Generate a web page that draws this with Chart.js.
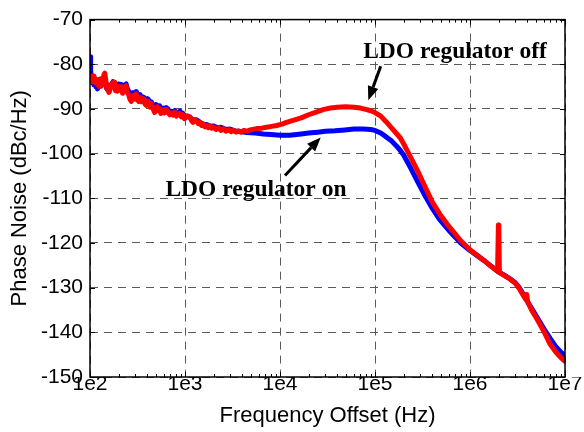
<!DOCTYPE html>
<html>
<head>
<meta charset="utf-8">
<script src="https://cdn.jsdelivr.net/npm/chart.js@4"></script>
<style>
  html, body { margin: 0; padding: 0; background: #fff; }
  #wrap { width: 584px; height: 432px; }
</style>
</head>
<body>
<div id="wrap"><canvas id="pnChart"></canvas></div>
<script>
// Data: [frequency offset (Hz), phase noise (dBc/Hz)]
const ldoOff = [
  [100, -82.7], [102, -83.6], [104, -82.8], [106, -83.9], [108, -82.6], [110, -83.8], [112, -83.0],
  [115, -84.2], [117, -83.4], [120, -84.6], [122, -83.8], [125, -85.0], [127, -83.3], [129, -84.6],
  [131, -84.9], [134, -83.2], [137, -83.5], [140, -82.4], [143, -82.0], [146, -83.2], [148, -84.2],
  [151, -85.5], [154, -85.4], [158, -86.3], [161, -86.0], [165, -84.8], [168, -85.2], [172, -84.2],
  [175, -84.6], [179, -84.0], [182, -84.9], [186, -85.9], [190, -85.3], [195, -86.0], [200, -85.0],
  [206, -85.8], [213, -85.0], [220, -86.5], [226, -86.0], [233, -85.0], [240, -84.8], [247, -86.2],
  [255, -86.8], [263, -87.8], [272, -88.3], [281, -87.2], [290, -86.9], [298, -87.8], [307, -86.6],
  [316, -87.9], [325, -88.3], [336, -87.4], [347, -88.4], [357, -87.6], [368, -87.8], [380, -88.9],
  [391, -89.2], [403, -88.2], [415, -88.6], [428, -89.6], [442, -88.8], [460, -89.9], [479, -90.8],
  [495, -89.8], [510, -89.5], [525, -90.4], [540, -89.9], [557, -91.0], [575, -90.8], [592, -90.2],
  [610, -90.9], [635, -90.1], [660, -90.6], [690, -91.3], [716, -90.9], [750, -91.4], [780, -90.7],
  [810, -91.6], [844, -91.3], [880, -91.0], [920, -91.8], [955, -91.3], [990, -92.2], [1060, -91.6],
  [1130, -91.8], [1170, -92.6], [1215, -93.0], [1260, -92.4], [1320, -92.7], [1380, -93.3], [1440, -93.0],
  [1500, -93.7], [1560, -93.4], [1620, -94.0], [1690, -93.7], [1760, -94.2], [1840, -93.8], [1910, -94.3],
  [1985, -94.0], [2120, -94.6], [2250, -94.2], [2400, -94.8], [2530, -94.4], [2700, -95.0], [2880, -94.6],
  [3050, -95.1], [3240, -94.8], [3450, -95.2], [3650, -94.9], [3900, -95.2], [4130, -94.8], [4500, -95.0],
  [4830, -94.7], [5680, -94.4], [6400, -94.3], [7220, -94.1], [8200, -93.9], [9200, -93.7],
  [10500, -93.4], [11700, -93.0], [14000, -92.5], [16700, -92.0], [20000, -91.3], [24000, -90.7],
  [29000, -90.1], [34000, -89.8], [40000, -89.6], [49000, -89.5], [60000, -89.6], [70000, -89.8],
  [80000, -90.1], [90000, -90.4], [100000, -90.8], [115000, -91.6], [130000, -92.8], [150000, -94.3],
  [170000, -95.6], [185000, -96.5], [200000, -97.8], [240000, -101.0], [280000, -103.8], [340000, -107.6],
  [400000, -110.8], [480000, -113.5], [600000, -116.3], [800000, -119.5], [1000000, -121.5],
  [1200000, -122.8], [1400000, -123.9], [1600000, -124.9], [1800000, -125.8], [1950000, -126.3],
  [1990000, -116.0], [2010000, -116.3], [2040000, -126.6], [2300000, -127.3], [2600000, -128.0],
  [3000000, -129.0], [3300000, -130.2], [3600000, -131.6], [3850000, -132.6], [3950000, -131.5],
  [4050000, -133.2], [4500000, -135.2], [5000000, -136.8], [6000000, -139.8], [6900000, -142.5],
  [8000000, -144.4], [9300000, -145.9], [10000000, -146.5]
];

const ldoOn = [
  [100, -78.3], [101, -79.8], [102, -81.5], [104, -83.3], [106, -84.2], [108, -83.6], [110, -84.6],
  [112, -84.0], [115, -85.0], [117, -84.5], [120, -85.5], [122, -85.0], [125, -84.3], [127, -83.8],
  [130, -84.8], [133, -84.3], [137, -83.6], [140, -83.3], [144, -84.2], [147, -84.8], [151, -85.6],
  [154, -85.2], [158, -86.0], [161, -85.5], [165, -84.6], [170, -84.4], [175, -83.9], [180, -84.2],
  [185, -85.2], [190, -84.8], [195, -85.3], [200, -84.4], [206, -85.0], [213, -84.5], [220, -85.6],
  [226, -85.3], [233, -84.6], [240, -84.4], [247, -85.5], [255, -86.0], [263, -86.9], [272, -87.0],
  [281, -86.4], [290, -86.4], [298, -87.0], [307, -86.1], [316, -87.0], [325, -87.3], [336, -86.8],
  [347, -87.7], [357, -87.3], [368, -87.4], [380, -88.2], [391, -88.3], [403, -87.7], [415, -88.0],
  [428, -88.9], [442, -88.4], [456, -89.3], [470, -89.5], [490, -89.0], [510, -89.2], [525, -89.8],
  [540, -89.3], [557, -90.1], [575, -90.3], [592, -89.8], [610, -90.1], [635, -89.7], [660, -90.0],
  [690, -90.6], [716, -90.5], [750, -90.9], [780, -90.4], [810, -91.0], [844, -90.8], [886, -90.5],
  [920, -91.2], [950, -91.0], [990, -91.5], [1060, -91.6], [1130, -91.9], [1215, -92.5], [1320, -92.4],
  [1440, -93.0], [1560, -93.4], [1690, -93.5], [1840, -93.9], [1985, -93.8], [2200, -94.2], [2400, -94.1],
  [2700, -94.6], [2970, -94.5], [3500, -95.0], [4000, -95.1], [4470, -95.3], [5500, -95.4], [6670, -95.6],
  [8000, -95.7], [10000, -95.9], [12700, -95.9], [16700, -95.6], [20000, -95.4], [25000, -95.2],
  [30000, -95.0], [38000, -94.9], [48000, -94.7], [60000, -94.5], [75000, -94.5], [90000, -94.6],
  [100000, -94.8], [115000, -95.4], [130000, -96.2], [150000, -97.2], [170000, -98.4], [185000, -99.3],
  [200000, -100.3], [240000, -103.4], [280000, -106.2], [340000, -109.6], [400000, -112.2],
  [480000, -114.8], [600000, -117.2], [800000, -120.0], [1000000, -121.7], [1200000, -122.9],
  [1400000, -123.9], [1600000, -124.9], [1800000, -125.7], [2000000, -126.5], [2300000, -127.2],
  [2600000, -127.9], [3000000, -128.9], [3300000, -130.0], [3600000, -131.3], [4000000, -133.0],
  [4500000, -134.8], [5000000, -136.4], [6000000, -139.2], [7000000, -141.4], [8000000, -143.2],
  [9000000, -144.4], [10000000, -145.2]
];

const xTicks = [1e2, 1e3, 1e4, 1e5, 1e6, 1e7];
const xTickLabels = ['1e2', '1e3', '1e4', '1e5', '1e6', '1e7'];
const yTicks = [-150, -140, -130, -120, -110, -100, -90, -80, -70];

// text notes and arrows, in data units
const notes = [
  { text: 'LDO regulator off', x: 6.95e5, y: -78.7 },
  { text: 'LDO regulator on', x: 5585, y: -109.4 }
];
const arrows = [
  { from: [1.148e5, -80.45], to: [8.5e4, -88.06] },
  { from: [1.129e4, -104.9], to: [2.682e4, -96.37] }
];

const toPoints = rows => rows.map(r => ({ x: r[0], y: r[1] }));

const frame = {
  id: 'frame',
  afterDatasetsDraw(chart) {
    const { ctx, chartArea: a, scales: { x, y } } = chart;
    ctx.save();
    ctx.strokeStyle = '#000';
    ctx.lineWidth = 1;
    ctx.beginPath();
    // minor ticks on the log axis
    for (let d = 100; d < 1e7; d *= 10) {
      for (let k = 2; k < 10; k++) {
        const px = Math.round(x.getPixelForValue(d * k)) + 0.5;
        ctx.moveTo(px, a.bottom); ctx.lineTo(px, a.bottom - 3);
        ctx.moveTo(px, a.top); ctx.lineTo(px, a.top + 3);
      }
    }
    xTicks.forEach(v => {
      const px = Math.round(x.getPixelForValue(v)) + 0.5;
      ctx.moveTo(px, a.bottom); ctx.lineTo(px, a.bottom - 5);
      ctx.moveTo(px, a.top); ctx.lineTo(px, a.top + 5);
    });
    yTicks.forEach(v => {
      const py = Math.round(y.getPixelForValue(v)) + 0.5;
      ctx.moveTo(a.left, py); ctx.lineTo(a.left + 5, py);
      ctx.moveTo(a.right, py); ctx.lineTo(a.right - 5, py);
    });
    ctx.stroke();
    ctx.lineWidth = 1.5;
    ctx.strokeRect(a.left, a.top, a.right - a.left, a.bottom - a.top);

    // notes
    ctx.fillStyle = '#000';
    ctx.font = 'bold 23.5px "Liberation Serif", "Times New Roman", serif';
    ctx.textAlign = 'center';
    ctx.textBaseline = 'alphabetic';
    notes.forEach(n => ctx.fillText(n.text, x.getPixelForValue(n.x), y.getPixelForValue(n.y)));

    // arrows
    arrows.forEach(ar => {
      const x0 = x.getPixelForValue(ar.from[0]), y0 = y.getPixelForValue(ar.from[1]);
      const x1 = x.getPixelForValue(ar.to[0]), y1 = y.getPixelForValue(ar.to[1]);
      const ang = Math.atan2(y1 - y0, x1 - x0);
      const hl = 14, hw = 5.5;
      const bx = x1 - hl * Math.cos(ang), by = y1 - hl * Math.sin(ang);
      ctx.lineWidth = 3;
      ctx.beginPath();
      ctx.moveTo(x0, y0); ctx.lineTo(bx, by);
      ctx.stroke();
      ctx.beginPath();
      ctx.moveTo(x1, y1);
      ctx.lineTo(bx + hw * Math.sin(ang), by - hw * Math.cos(ang));
      ctx.lineTo(bx - hw * Math.sin(ang), by + hw * Math.cos(ang));
      ctx.closePath();
      ctx.fill();
    });
    ctx.restore();
  }
};

const gridStyle = { color: '#5a5a5a', lineWidth: 1, drawTicks: false };
const borderStyle = { display: false, dash: [8, 6] };

new Chart(document.getElementById('pnChart'), {
  type: 'line',
  data: {
    datasets: [
      { label: 'LDO regulator off', data: toPoints(ldoOff), borderColor: '#ff0000',
        borderWidth: 5, pointRadius: 0, tension: 0, borderJoinStyle: 'round', borderCapStyle: 'round' },
      { label: 'LDO regulator on', data: toPoints(ldoOn), borderColor: '#0000ff',
        borderWidth: 5, pointRadius: 0, tension: 0, borderJoinStyle: 'round', borderCapStyle: 'round' }
    ]
  },
  options: {
    responsive: true,
    maintainAspectRatio: false,
    animation: false,
    layout: { padding: { left: 0, right: 19, top: 15, bottom: 0 } },
    plugins: { legend: { display: false }, tooltip: { enabled: false } },
    scales: {
      x: {
        type: 'logarithmic',
        min: 1e2,
        max: 1e7,
        afterBuildTicks: s => { s.ticks = xTicks.map(v => ({ value: v })); },
        afterFit: s => { s.height = 55; },
        grid: gridStyle,
        border: borderStyle,
        ticks: {
          autoSkip: false, maxRotation: 0, padding: 0, color: '#000',
          font: { family: '"Liberation Sans", Arial, sans-serif', size: 21, lineHeight: 0.7 },
          callback: (v, i) => xTickLabels[i]
        },
        title: {
          display: true, text: 'Frequency Offset (Hz)', color: '#000',
          font: { family: '"Liberation Sans", Arial, sans-serif', size: 22 },
          padding: { top: 0, bottom: 3 }
        }
      },
      y: {
        type: 'linear',
        min: -150,
        max: -70,
        afterBuildTicks: s => { s.ticks = yTicks.map(v => ({ value: v })); },
        afterFit: s => { s.width = 90; },
        grid: gridStyle,
        border: borderStyle,
        ticks: {
          padding: 7, color: '#000',
          font: { family: '"Liberation Sans", Arial, sans-serif', size: 21 }
        },
        title: {
          display: true, text: 'Phase Noise (dBc/Hz)', color: '#000',
          font: { family: '"Liberation Sans", Arial, sans-serif', size: 22 },
          padding: { top: 7, bottom: 0 }
        }
      }
    }
  },
  plugins: [frame]
});
</script>
</body>
</html>
